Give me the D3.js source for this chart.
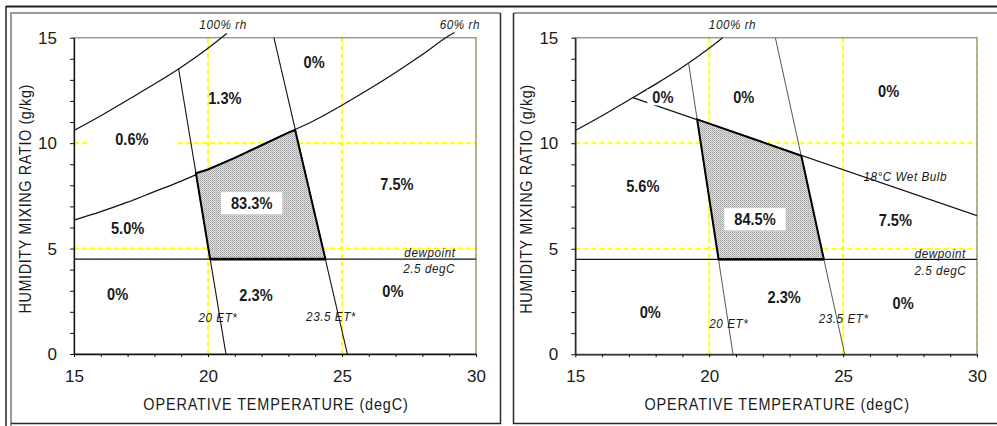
<!DOCTYPE html>
<html>
<head>
<meta charset="utf-8">
<script src="https://cdn.jsdelivr.net/npm/d3@7"></script>
<style>
  body { margin: 0; background: #fff; }
  svg { display: block; }
  text { font-family: "Liberation Sans", Arial, sans-serif; fill: #1a1a1a; }
</style>
</head>
<body>
<svg id="chart" width="997" height="426"></svg>
<script>
// ---- axis ticks ----
const xTickValues = [15, 20, 25, 30];
const yTickValues = [0, 5, 10, 15];
const xMinorTicks = d3.range(15, 31, 1);
const yMinorTicks = d3.range(0, 16, 1);
const xGrid = [20, 25, 30];
const yGrid = [5, 10];

// ---- psychrometric curves: [operative temp degC, mixing ratio g/kg] ----
const rh100 = [[15, 10.6], [16, 11.3], [17, 12.05], [18, 12.8], [19, 13.6], [20, 14.5], [20.7, 15.2]];
const rh60 = [[15, 6.35], [16, 6.75], [17, 7.2], [18, 7.7], [19, 8.2], [20, 8.75], [21, 9.3],
              [22, 9.9], [23, 10.5], [24, 11.1], [25, 11.8], [26, 12.55], [27, 13.35],
              [28, 14.2], [29, 15.1], [29.2, 15.25]];
const dewpointW = 4.5;   // 2.5 degC dewpoint

// left panel (60% rh upper limit)
const et20A = [[18.9, 13.55], [20.67, 0]];
const et235A = [[22.46, 15], [25.2, 0]];
const comfortA = [[19.55, 8.57], [23.25, 10.62], [24.38, 4.5], [20.08, 4.5]];
const zoneLabelsA = [
  [23.96, 13.85, "0%"], [20.63, 12.14, "1.3%"], [17.16, 10.19, "0.6%"],
  [27.05, 8.06, "7.5%"], [21.63, 7.15, "83.3%"], [17.0, 5.97, "5.0%"],
  [16.63, 2.86, "0%"], [21.79, 2.81, "2.3%"], [26.9, 2.99, "0%"]
];
const lineLabelsA = [
  [20.56, 15.6, "100% rh"], [29.4, 15.6, "60% rh"],
  [28.28, 4.79, "dewpoint"], [28.25, 4.03, "2.5 degC"],
  [20.37, 1.71, "20 ET*"], [24.59, 1.75, "23.5 ET*"]
];

// right panel (18 degC wet bulb upper limit)
const wetBulb18 = [[17.15, 12.16], [30, 6.57]];
const et20B = [[19.23, 13.79], [20.89, 0]];
const et235B = [[22.47, 15], [25.06, 0]];
const comfortB = [[19.55, 11.13], [23.44, 9.41], [24.28, 4.5], [20.35, 4.5]];
const zoneLabelsB = [
  [18.27, 12.18, "0%"], [21.29, 12.18, "0%"], [26.7, 12.45, "0%"],
  [17.52, 7.99, "5.6%"], [21.71, 6.4, "84.5%"], [26.95, 6.38, "7.5%"],
  [22.8, 2.72, "2.3%"], [17.8, 2.0, "0%"], [27.24, 2.43, "0%"]
];
const lineLabelsB = [
  [20.87, 15.6, "100% rh"], [27.32, 8.42, "18\u00B0C Wet Bulb"],
  [28.63, 4.77, "dewpoint"], [28.63, 3.98, "2.5 degC"],
  [20.73, 1.45, "20 ET*"], [25.02, 1.67, "23.5 ET*"]
];

const svg = d3.select("#chart");

// narrow text: placed at (x, y), squeezed horizontally by sx
function narrowText(parent, x, y, sx, rotate) {
  return parent.append("text")
    .attr("transform", `translate(${x},${y})${rotate ? " rotate(" + rotate + ")" : ""} scale(${sx},1)`)
    .attr("text-anchor", "middle").attr("dominant-baseline", "central");
}

// dotted fill for the comfort zone
const defs = svg.append("defs");
const pat = defs.append("pattern").attr("id", "dots")
  .attr("width", 2).attr("height", 2).attr("patternUnits", "userSpaceOnUse");
pat.append("rect").attr("width", 2).attr("height", 2).attr("fill", "#e0e0e0");
pat.append("rect").attr("width", 1).attr("height", 1).attr("fill", "#9c9c9c");
pat.append("rect").attr("x", 1).attr("y", 1).attr("width", 1).attr("height", 1).attr("fill", "#b8b8b8");

// ---- page frame ----
svg.append("line").attr("x1", 6).attr("x2", 997).attr("y1", 6.5).attr("y2", 6.5)
  .attr("stroke", "#222").attr("stroke-width", 2);
svg.append("line").attr("x1", 6).attr("x2", 6).attr("y1", 6).attr("y2", 426)
  .attr("stroke", "#222").attr("stroke-width", 1.5);
// left chart area
svg.append("path").attr("d", "M11,426 V13 H500.5").attr("fill", "none")
  .attr("stroke", "#9a9a9a").attr("stroke-width", 2);
svg.append("path").attr("d", "M500.5,13 V423.5 H11").attr("fill", "none")
  .attr("stroke", "#2a2a2a").attr("stroke-width", 1.5);
// right chart area
svg.append("path").attr("d", "M513.5,13 H997").attr("fill", "none")
  .attr("stroke", "#9a9a9a").attr("stroke-width", 2);
svg.append("path").attr("d", "M513.5,13 V423.5 H997").attr("fill", "none")
  .attr("stroke", "#2a2a2a").attr("stroke-width", 1.5);

function drawPanel(cfg) {
  const x = d3.scaleLinear().domain([15, 30]).range([cfg.x0, cfg.x1]);
  const y = d3.scaleLinear().domain([0, 15]).range([cfg.y1, cfg.y0]);
  const g = svg.append("g");

  const clipId = "clip" + cfg.id;
  defs.append("clipPath").attr("id", clipId).append("rect")
    .attr("x", cfg.x0).attr("y", cfg.y0 - cfg.overTop)
    .attr("width", cfg.x1 - cfg.x0).attr("height", cfg.y1 - cfg.y0 + cfg.overTop);

  // yellow dashed gridlines
  g.selectAll(".gx").data(xGrid).join("line")
    .attr("x1", d => x(d)).attr("x2", d => x(d)).attr("y1", y(15)).attr("y2", y(0))
    .attr("stroke", "#ffff00").attr("stroke-width", 2).attr("stroke-dasharray", "5,3");
  g.selectAll(".gy").data(yGrid).join("line")
    .attr("x1", x(15)).attr("x2", x(30)).attr("y1", d => y(d)).attr("y2", d => y(d))
    .attr("stroke", "#ffff00").attr("stroke-width", 2).attr("stroke-dasharray", "5,3");

  // plot border (top / right in grey)
  g.append("rect").attr("x", x(15)).attr("y", y(15))
    .attr("width", x(30) - x(15)).attr("height", y(0) - y(15))
    .attr("fill", "none").attr("stroke", "#9a9a9a").attr("stroke-width", 1.5);

  const lines = g.append("g").attr("clip-path", `url(#${clipId})`);
  const curve = d3.line().x(d => x(d[0])).y(d => y(d[1])).curve(d3.curveMonotoneX);
  const straight = d3.line().x(d => x(d[0])).y(d => y(d[1]));

  cfg.curves.forEach(c => {
    lines.append("path").attr("d", curve(c)).attr("fill", "none")
      .attr("stroke", "#111").attr("stroke-width", 1.2);
  });
  cfg.straights.forEach(s => {
    lines.append("path").attr("d", straight(s.pts)).attr("fill", "none")
      .attr("stroke", s.color).attr("stroke-width", s.width);
  });
  // dewpoint line
  lines.append("line").attr("x1", x(15)).attr("x2", x(30))
    .attr("y1", y(dewpointW)).attr("y2", y(dewpointW))
    .attr("stroke", "#111").attr("stroke-width", 1.3);

  // comfort zone polygon
  const poly = cfg.polygon;
  lines.append("path")
    .attr("d", d3.line().x(d => x(d[0])).y(d => y(d[1]))(poly) + "Z")
    .attr("fill", "url(#dots)").attr("stroke", "#000").attr("stroke-width", 2)
    .attr("stroke-linejoin", "miter");
  // heavier bottom edge along the dewpoint
  lines.append("line").attr("x1", x(poly[poly.length - 1][0])).attr("x2", x(poly[poly.length - 2][0]))
    .attr("y1", y(dewpointW)).attr("y2", y(dewpointW))
    .attr("stroke", "#000").attr("stroke-width", 2.6);

  // axes
  const yAxis = d3.axisLeft(y).tickValues(yMinorTicks).tickSize(4).tickSizeOuter(0).tickPadding(13)
    .tickFormat(d => yTickValues.includes(d) ? d : "");
  const xAxis = d3.axisBottom(x).tickValues(xMinorTicks).tickSize(3).tickSizeOuter(0).tickPadding(13)
    .tickFormat(d => xTickValues.includes(d) ? d : "");
  const ya = g.append("g").attr("transform", `translate(${x(15)},0)`).call(yAxis);
  const xa = g.append("g").attr("transform", `translate(0,${y(0)})`).call(xAxis);
  [ya, xa].forEach(a => {
    a.select(".domain").attr("stroke", "#111").attr("stroke-width", 1.3);
    a.selectAll(".tick line").attr("stroke", "#111");
    a.selectAll("text").style("font-size", "17px").attr("fill", "#1a1a1a");
  });

  // axis titles
  narrowText(g, (x(15) + x(30)) / 2 + 1, 404, 0.85)
    .style("font-size", "17px").style("letter-spacing", "1px")
    .text("OPERATIVE TEMPERATURE (degC)");
  narrowText(g, x(15) - 49, (y(0) + y(15)) / 2 + 3, 0.85, -90)
    .style("font-size", "17px").style("letter-spacing", "0.7px")
    .text("HUMIDITY MIXING RATIO (g/kg)");

  // italic line annotations
  cfg.lineLabels.forEach(d => {
    narrowText(g, x(d[0]), y(d[1]), 0.9)
      .style("font-size", "13px").style("font-style", "italic").style("letter-spacing", "0.6px")
      .attr("fill", "#333").text(d[2]);
  });

  // zone percentages (some on a white label background)
  cfg.zoneLabels.forEach(d => {
    const pad = cfg.boxes[d[2] + "@" + d[0]];
    const px = x(d[0]), py = y(d[1]);
    const t = narrowText(g, px, py, 0.86)
      .style("font-size", "17px").style("font-weight", "bold")
      .text(d[2]);
    if (pad) {
      const bb = t.node().getBBox();
      const w = bb.width * 0.86;
      g.insert("rect", () => t.node())
        .attr("x", px - w / 2 - pad[0]).attr("y", py + bb.y - pad[1])
        .attr("width", w + pad[0] * 2).attr("height", bb.height + pad[1] * 2)
        .attr("fill", "#fff");
    }
  });
}

drawPanel({
  id: "A", x0: 74, x1: 476, y0: 37.7, y1: 354, overTop: 10,
  curves: [rh100, rh60],
  straights: [
    { pts: et20A, color: "#111", width: 1.1 },
    { pts: et235A, color: "#111", width: 1.1 }
  ],
  polygon: [comfortA[0], ...rh60.filter(p => p[0] > comfortA[0][0] && p[0] < comfortA[1][0]),
            comfortA[1], comfortA[2], comfortA[3]],
  zoneLabels: zoneLabelsA,
  lineLabels: lineLabelsA,
  boxes: { "0.6%@17.16": [26, 2], "83.3%@21.63": [10, 2] }
});

drawPanel({
  id: "B", x0: 575.3, x1: 977, y0: 37.7, y1: 354.3, overTop: 0,
  curves: [rh100],
  straights: [
    { pts: wetBulb18, color: "#111", width: 1.1 },
    { pts: et20B, color: "#444", width: 0.9 },
    { pts: et235B, color: "#444", width: 0.9 }
  ],
  polygon: comfortB,
  zoneLabels: zoneLabelsB,
  lineLabels: lineLabelsB,
  boxes: { "0%@18.27": [5, -1], "84.5%@21.71": [10, 2] }
});
</script>
</body>
</html>
